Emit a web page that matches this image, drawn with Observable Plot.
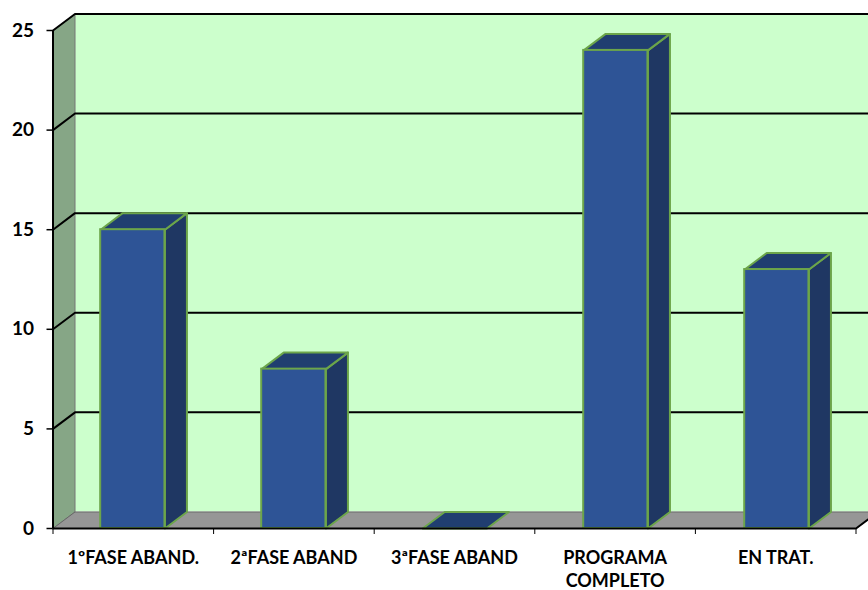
<!DOCTYPE html>
<html>
<head>
<meta charset="utf-8">
<script src="https://cdn.jsdelivr.net/npm/d3@7"></script>
<script src="https://cdn.jsdelivr.net/npm/@observablehq/plot@0.6"></script>
<style>html,body{margin:0;padding:0;background:#fff}svg{display:block}</style>
</head>
<body>
<div id="chart"></div>
<script>
const categories = ["1ºFASE ABAND.", "2ªFASE ABAND", "3ªFASE ABAND", "PROGRAMA\nCOMPLETO", "EN TRAT."];
const values = [15, 8, 0, 24, 13];
const yTicks = [0, 5, 10, 15, 20, 25];
const xBoundaries = [0, 1, 2, 3, 4, 5];
const labelPositions = [0.5, 1.5, 2.5, 3.5, 4.5];
const depthX = 0.137, depthY = 0.83;
const barStart = 0.297, barEnd = 0.697, barStep = 1.0025;

const C = {wall:"#CCFFCC", side:"#86A686", floor:"#969696", front:"#2E5496", right:"#1F3763", top:"#203E70", edge:"#6CA54A"};

function polys(list){ // list of {id, pts}
  return list.flatMap(p => p.pts.map(([x,y]) => ({id:p.id, x, y})));
}
const bars = values.map((v,i)=>({i, v, x1:i*barStep+barStart, x2:i*barStep+barEnd}));
const sidePolys = polys(bars.filter(b=>b.v>0).map(b=>({id:b.i, pts:[[b.x2,0],[b.x2+depthX,depthY],[b.x2+depthX,b.v+depthY],[b.x2,b.v],[b.x2,0]]})));
const topPolys = polys(bars.map(b=>({id:b.i, pts:[[b.x1,b.v],[b.x1+depthX,b.v+depthY],[b.x2+depthX,b.v+depthY],[b.x2,b.v],[b.x1,b.v]]})));
const leftWall = polys([{id:0, pts:[[0,0],[depthX,depthY],[depthX,25+depthY],[0,25],[0,0]]}]);
const floor = polys([{id:0, pts:[[0,0],[5,0],[5+depthX,depthY],[depthX,depthY],[0,0]]}]);
const gridLines = polys(yTicks.filter(t=>t>0).map(t=>({id:t, pts:[[0,t],[depthX,t+depthY],[5+depthX,t+depthY]]})));
const lineOpts = {x:"x", y:"y", z:"id"};

const chart = Plot.plot({
  width:868, height:590,
  marginLeft:52.5, marginRight:12.5, marginTop:30, marginBottom:62,
  style:{fontFamily:"Lato, sans-serif", fontWeight:"bold", background:"#fff", color:"#000"},
  x:{type:"linear", domain:[0,5]},
  y:{type:"linear", domain:[0,25]},
  marks:[
    Plot.rect([{}],{x1:depthX, x2:5+depthX, y1:depthY, y2:25+depthY, fill:C.wall}),
    Plot.line(leftWall,{...lineOpts, fill:C.side, stroke:"#777", strokeWidth:1}),
    Plot.line(floor,{...lineOpts, fill:C.floor, stroke:"#666", strokeWidth:1}),
    Plot.line(gridLines,{...lineOpts, stroke:"#000", strokeWidth:2}),
    Plot.line(sidePolys,{...lineOpts, fill:C.right, stroke:C.edge, strokeWidth:2}),
    Plot.line(topPolys,{...lineOpts, fill:C.top, stroke:C.edge, strokeWidth:2}),
    Plot.rect(bars.filter(b=>b.v>0),{x1:"x1", x2:"x2", y1:0, y2:"v", fill:C.front, stroke:C.edge, strokeWidth:2}),
    Plot.ruleY([0],{x1:0, x2:5, stroke:"#000", strokeWidth:2}),
    Plot.line(polys([{id:0, pts:[[5,0],[5+depthX,depthY]]}]),{...lineOpts, stroke:"#000", strokeWidth:2}),
    Plot.ruleX([0],{y1:0, y2:25, stroke:"#000", strokeWidth:2}),
    Plot.axisY({ticks:yTicks, tickSize:6, tickPadding:13, fontSize:19, fontWeight:"bold", label:null, stroke:"#000", strokeWidth:1.5}),
    Plot.axisX({ticks:xBoundaries, tickSize:6, tickFormat:()=>"", label:null, strokeWidth:1}),
    Plot.axisX({ticks:labelPositions, tickSize:0, tickPadding:18, fontSize:18, fontWeight:"bold", lineHeight:1.33, lineAnchor:"top", label:null,
      tickFormat:d=>categories[labelPositions.indexOf(d)]})
  ]
});
document.getElementById("chart").appendChild(chart);
</script>
</body>
</html>
